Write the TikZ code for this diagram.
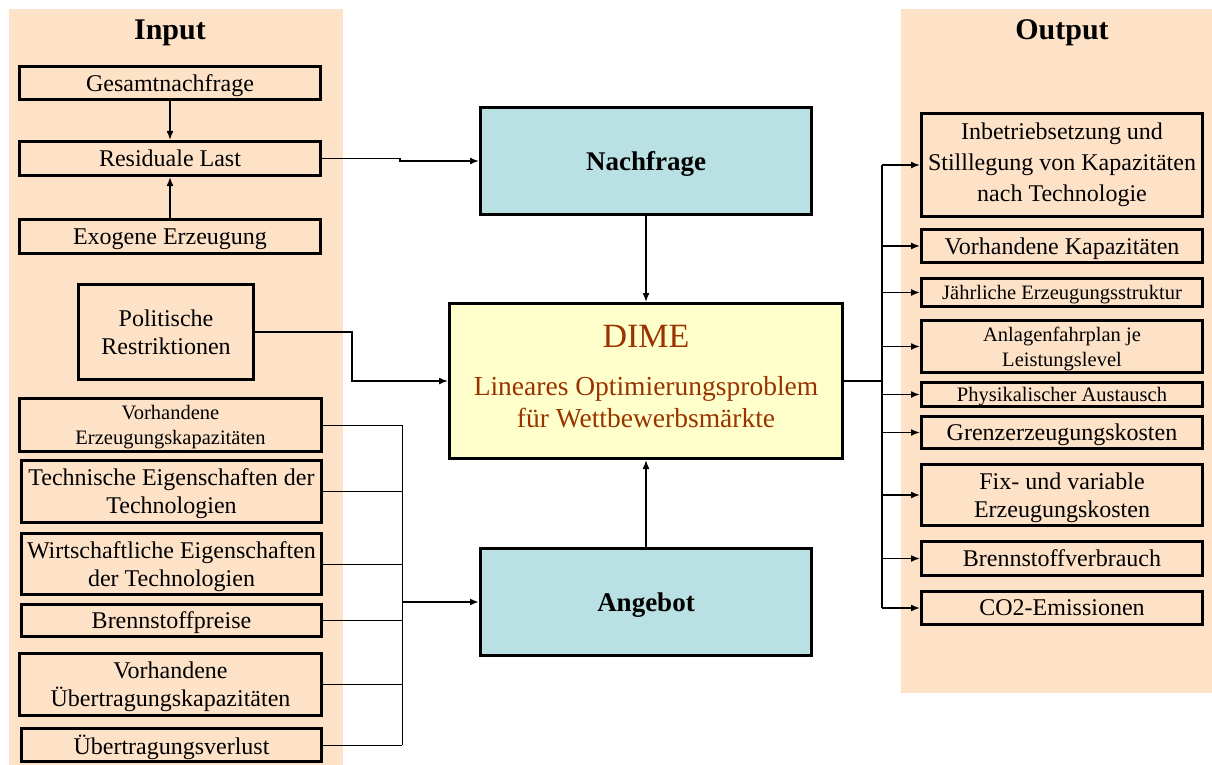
\documentclass[tikz,border=0pt]{standalone}
\usepackage{fontspec}
\setmainfont{Liberation Serif}
\usepackage{xcolor}
\usepackage{tikz}
\usetikzlibrary{arrows.meta,positioning}

\definecolor{peach}{RGB}{254,226,200}
\definecolor{cyanbox}{RGB}{185,224,227}
\definecolor{dimefill}{RGB}{255,255,204}
\definecolor{dimetext}{RGB}{153,51,0}

\begin{document}
\begin{tikzpicture}[
    x=1pt, y=-1pt,
    panel/.style={fill=peach, inner sep=0pt, outer sep=0pt},
    heading/.style={font=\fontsize{30}{36}\selectfont\bfseries},
    box/.style={draw, line width=3pt, fill=peach, align=center, inner sep=2pt,
    text depth=0pt, font=\fontsize{24}{28}\selectfont},
    smallbox/.style={box, font=\fontsize{20.5}{25}\selectfont},
    mainbox/.style={draw, line width=3pt, fill=cyanbox, align=center, text depth=0pt,
    minimum width=331, minimum height=106, font=\fontsize{27}{32}\selectfont\bfseries},
    arr/.style={-{Latex[length=9pt,width=7pt]}, line width=1.5pt},
    thinline/.style={line width=1pt},
    midline/.style={line width=1.5pt}
]
\useasboundingbox (0,0) rectangle (1212,765);

% background panels
\node[panel, minimum width=334, minimum height=756] (inpanel) at (176,387) {};
\node[panel, minimum width=311, minimum height=684] (outpanel) at (1056.5,351) {};
\node[heading] (intitle) at (170,33) {Input};
\node[heading] (outtitle) at (1062,33) {Output};

% input side
\node[box, minimum width=301, minimum height=33] (gesamt) at (170,83) {Gesamtnachfrage};
\node[box, minimum width=301, minimum height=34] (resid) at (170,158.5) {Residuale Last};
\node[box, minimum width=301, minimum height=34] (exogen) at (170,236.5) {Exogene Erzeugung};
\node[box, minimum width=175, minimum height=95] (polit) at (166,332) {Politische\\Restriktionen};
\node[smallbox, minimum width=302, minimum height=53] (vorherz) at (170.5,425) {Vorhandene\\Erzeugungskapazitäten};
\node[box, minimum width=300, minimum height=62] (techn) at (171.5,491.5) {Technische Eigenschaften der\\Technologien};
\node[box, minimum width=300, minimum height=61] (wirt) at (171.5,564) {Wirtschaftliche Eigenschaften\\der Technologien};
\node[box, minimum width=300, minimum height=32] (brennpr) at (171.5,620.5) {Brennstoffpreise};
\node[box, minimum width=302, minimum height=62] (vorhuebertr) at (170.5,684.5) {Vorhandene\\Übertragungskapazitäten};
\node[box, minimum width=300, minimum height=33] (verlust) at (171.5,745) {Übertragungsverlust};

% model
\node[mainbox] (nachfrage) at (646,161) {Nachfrage};
\node[draw, line width=3pt, fill=dimefill, align=center, text=dimetext, text depth=10pt,
    minimum width=393, minimum height=155, font=\fontsize{27.5}{31.5}\selectfont]
    (dime) at (646,381) {{\fontsize{34}{40}\selectfont DIME}\\[17pt]Lineares Optimierungsproblem\\für Wettbewerbsmärkte};
\node[mainbox, minimum height=107] (angebot) at (646,602) {Angebot};

% output side
\node[box, minimum width=281, minimum height=103, text depth=6pt, font=\fontsize{24}{31}\selectfont] (inbetr) at (1062,165) {Inbetriebsetzung und\\Stilllegung von Kapazitäten\\nach Technologie};
\node[box, minimum width=281, minimum height=33] (vorhkap) at (1062,246) {Vorhandene Kapazitäten};
\node[smallbox, minimum width=281, minimum height=28] (jaehrl) at (1062,292.5) {Jährliche Erzeugungsstruktur};
\node[smallbox, minimum width=281, minimum height=52] (anlagen) at (1062,346.5) {Anlagenfahrplan je\\Leistungslevel};
\node[smallbox, minimum width=281, minimum height=24] (physik) at (1062,394.5) {Physikalischer Austausch};
\node[box, minimum width=281, minimum height=32] (grenz) at (1062,432.5) {Grenzerzeugungskosten};
\node[box, minimum width=281, minimum height=61] (fixvar) at (1062,495) {Fix- und variable\\Erzeugungskosten};
\node[box, minimum width=281, minimum height=34] (brennv) at (1062,558.5) {Brennstoffverbrauch};
\node[box, minimum width=281, minimum height=33] (co2) at (1062,608) {CO2-Emissionen};

% connectors
\coordinate (busL) at (402,602);
\coordinate (busR) at (882,381);

\draw[arr] (gesamt) -- (resid);
\draw[arr] (exogen) -- (resid);
\draw[arr] (resid.east) -- ++(78,0) |- (nachfrage.west);
\draw[arr] (polit.east) -- ++(97,0) |- (dime.west);
\draw[arr] (nachfrage) -- (dime);
\draw[arr] (angebot) -- (dime);

\foreach \n in {vorherz,techn,wirt,brennpr,vorhuebertr,verlust}
    \draw[thinline] (\n.east) -- (\n.east -| busL);
\draw[thinline] (vorherz.east -| busL) -- (verlust.east -| busL);
\draw[arr, line width=2pt] (busL) -- (angebot.west);

\draw[midline] (dime.east) -- (busR);
\draw[midline] (inbetr.west -| busR) -- (co2.west -| busR);
\foreach \n in {inbetr,vorhkap,jaehrl,anlagen,physik,grenz,fixvar,brennv,co2}
    \draw[arr] (\n.west -| busR) -- (\n.west);
\end{tikzpicture}
\end{document}
